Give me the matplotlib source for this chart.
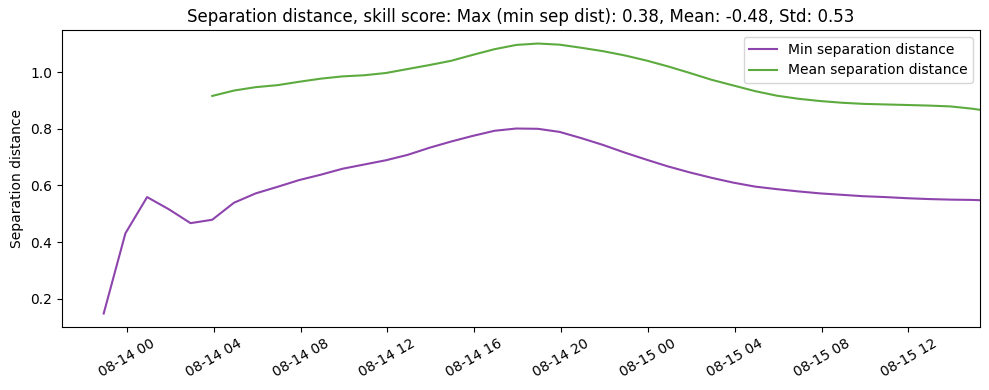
import matplotlib
matplotlib.use("Agg")
import matplotlib.pyplot as plt
import matplotlib.dates as mdates
import numpy as np
import pandas as pd

# hourly time stamps
start_time = "2024-08-13 22:56"
n_points = 42

min_sep = [0.148, 0.431, 0.559, 0.516, 0.467, 0.479, 0.539, 0.572, 0.595, 0.619,
           0.638, 0.659, 0.674, 0.689, 0.708, 0.733, 0.755, 0.775, 0.793, 0.801,
           0.800, 0.789, 0.767, 0.743, 0.716, 0.691, 0.667, 0.646, 0.627, 0.610,
           0.596, 0.587, 0.579, 0.572, 0.567, 0.562, 0.559, 0.555, 0.552, 0.550,
           0.549, 0.546]

mean_sep = [np.nan, np.nan, np.nan, np.nan, np.nan,
            0.916, 0.935, 0.947, 0.954, 0.966, 0.977, 0.985, 0.989, 0.997, 1.011,
            1.025, 1.040, 1.061, 1.081, 1.096, 1.101, 1.097, 1.086, 1.074, 1.059,
            1.041, 1.020, 0.997, 0.973, 0.953, 0.933, 0.917, 0.906, 0.898, 0.892,
            0.888, 0.886, 0.884, 0.882, 0.879, 0.871, 0.860]

title = "Separation distance, skill score: Max (min sep dist): 0.38, Mean: -0.48, Std: 0.53"
xlim = ("2024-08-13 21:00", "2024-08-15 15:18")

times = pd.date_range(start_time, periods=n_points, freq="h")

fig = plt.figure(figsize=(9.89, 3.90), dpi=100)
ax = fig.add_axes([0.0624, 0.1615, 0.9286, 0.7615])
ax.plot(times, min_sep, color="#8e44ad", lw=1.5, label="Min separation distance")
ax.plot(times, mean_sep, color="#5dab3f", lw=1.5, label="Mean separation distance")
ax.set_xlim(pd.Timestamp(xlim[0]), pd.Timestamp(xlim[1]))
ax.xaxis.set_major_locator(mdates.HourLocator(byhour=range(0, 24, 4)))
ax.xaxis.set_major_formatter(mdates.DateFormatter("%m-%d %H"))
plt.setp(ax.get_xticklabels(), rotation=30)
ax.set_ylabel("Separation distance")
ax.set_title(title)
ax.legend(loc="upper right")
fig.savefig("out.png", dpi=100)
